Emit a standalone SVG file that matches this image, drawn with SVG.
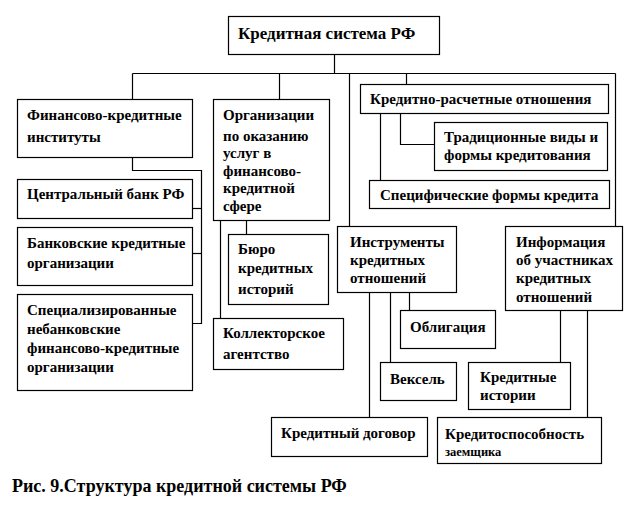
<svg xmlns="http://www.w3.org/2000/svg" width="638" height="516" viewBox="0 0 638 516">
<style>
rect{fill:#fff;stroke:#000;stroke-width:1.2}
.c line,.c polyline{stroke:#000;stroke-width:1.2;fill:none}
text{font-family:'Liberation Serif','Times New Roman',serif;font-weight:bold;font-size:15px;fill:#000}
.t{font-size:17px}
.cap{font-size:18px}
.s{font-size:12.5px}
</style>
<rect x="-1" y="-1" width="640" height="518" style="stroke:none"/>
<g class="c" id="connectors">
<line x1="334.5" y1="54" x2="334.5" y2="73.5"/>
<line x1="132.5" y1="73.5" x2="615.5" y2="73.5"/>
<line x1="132.5" y1="73.5" x2="132.5" y2="99"/>
<line x1="279.5" y1="73.5" x2="279.5" y2="99"/>
<line x1="349.5" y1="73.5" x2="349.5" y2="227"/>
<line x1="406.5" y1="73.5" x2="406.5" y2="84"/>
<line x1="615.5" y1="73.5" x2="615.5" y2="226"/>
<polyline points="132.5,157 132.5,170.5 201.5,170.5 201.5,323.5 192,323.5"/>
<line x1="192" y1="208.5" x2="201.5" y2="208.5"/>
<line x1="192" y1="253.5" x2="201.5" y2="253.5"/>
<line x1="220.5" y1="220" x2="220.5" y2="318"/>
<line x1="246.5" y1="220" x2="246.5" y2="234"/>
<polyline points="400.5,113 400.5,144.5 434,144.5"/>
<line x1="380.5" y1="113" x2="380.5" y2="180"/>
<line x1="369.5" y1="292" x2="369.5" y2="417"/>
<line x1="390.5" y1="292" x2="390.5" y2="362"/>
<line x1="409.5" y1="292" x2="409.5" y2="310"/>
<line x1="560.5" y1="310" x2="560.5" y2="362"/>
<line x1="587.5" y1="310" x2="587.5" y2="417"/>
</g>
<g id="root"><rect x="228.5" y="16.5" width="211" height="38"/><text class="t" x="238" y="39">Кредитная система РФ</text></g>
<g id="fin"><rect x="17.5" y="99.5" width="175" height="58"/><text x="27" y="120">Финансово-кредитные</text><text x="27" y="142">институты</text></g>
<g id="cb"><rect x="17.5" y="179.5" width="175" height="39"/><text x="27" y="199">Центральный банк РФ</text></g>
<g id="bank"><rect x="17.5" y="227.5" width="175" height="58"/><text x="27" y="248">Банковские кредитные</text><text x="27" y="268">организации</text></g>
<g id="spec"><rect x="17.5" y="294.5" width="175" height="96"/><text x="27" y="315">Специализированные</text><text x="27" y="334">небанковские</text><text x="27" y="353">финансово-кредитные</text><text x="27" y="372">организации</text></g>
<g id="org"><rect x="213.5" y="99.5" width="116" height="121"/><text x="223" y="120">Организации</text><text x="223" y="141">по оказанию</text><text x="223" y="158">услуг в</text><text x="223" y="176">финансово-</text><text x="223" y="193">кредитной</text><text x="223" y="211">сфере</text></g>
<g id="buro"><rect x="228.5" y="234.5" width="100" height="70"/><text x="238" y="254">Бюро</text><text x="238" y="273">кредитных</text><text x="238" y="294">историй</text></g>
<g id="koll"><rect x="213.5" y="318.5" width="130" height="51"/><text x="223" y="338">Коллекторское</text><text x="223" y="359">агентство</text></g>
<g id="krr"><rect x="360.5" y="84.5" width="248" height="29"/><text x="370" y="104">Кредитно-расчетные отношения</text></g>
<g id="trad"><rect x="434.5" y="122.5" width="173" height="48"/><text x="444" y="142">Традиционные виды и</text><text x="444" y="160">формы кредитования</text></g>
<g id="specf"><rect x="369.5" y="180.5" width="240" height="28"/><text x="380" y="200">Специфические формы кредита</text></g>
<g id="instr"><rect x="337.5" y="226.5" width="119" height="66"/><text x="350" y="247">Инструменты</text><text x="350" y="265">кредитных</text><text x="350" y="283">отношений</text></g>
<g id="info"><rect x="505.5" y="226.5" width="117" height="84"/><text x="516" y="247">Информация</text><text x="516" y="265">об участниках</text><text x="516" y="283">кредитных</text><text x="516" y="302">отношений</text></g>
<g id="obl"><rect x="400.5" y="310.5" width="95" height="38"/><text x="410" y="332">Облигация</text></g>
<g id="veks"><rect x="380.5" y="362.5" width="76" height="38"/><text x="390" y="384">Вексель</text></g>
<g id="kist"><rect x="468.5" y="362.5" width="102" height="47"/><text x="480" y="382">Кредитные</text><text x="480" y="400">истории</text></g>
<g id="kdog"><rect x="271.5" y="417.5" width="156" height="39"/><text x="281" y="438">Кредитный договор</text></g>
<g id="kspos"><rect x="437.5" y="417.5" width="164" height="46"/><text x="445" y="439">Кредитоспособность</text><text class="s" x="445" y="456">заемщика</text></g>
<text class="cap" x="12" y="492">Рис. 9.Структура кредитной системы РФ</text>
</svg>
